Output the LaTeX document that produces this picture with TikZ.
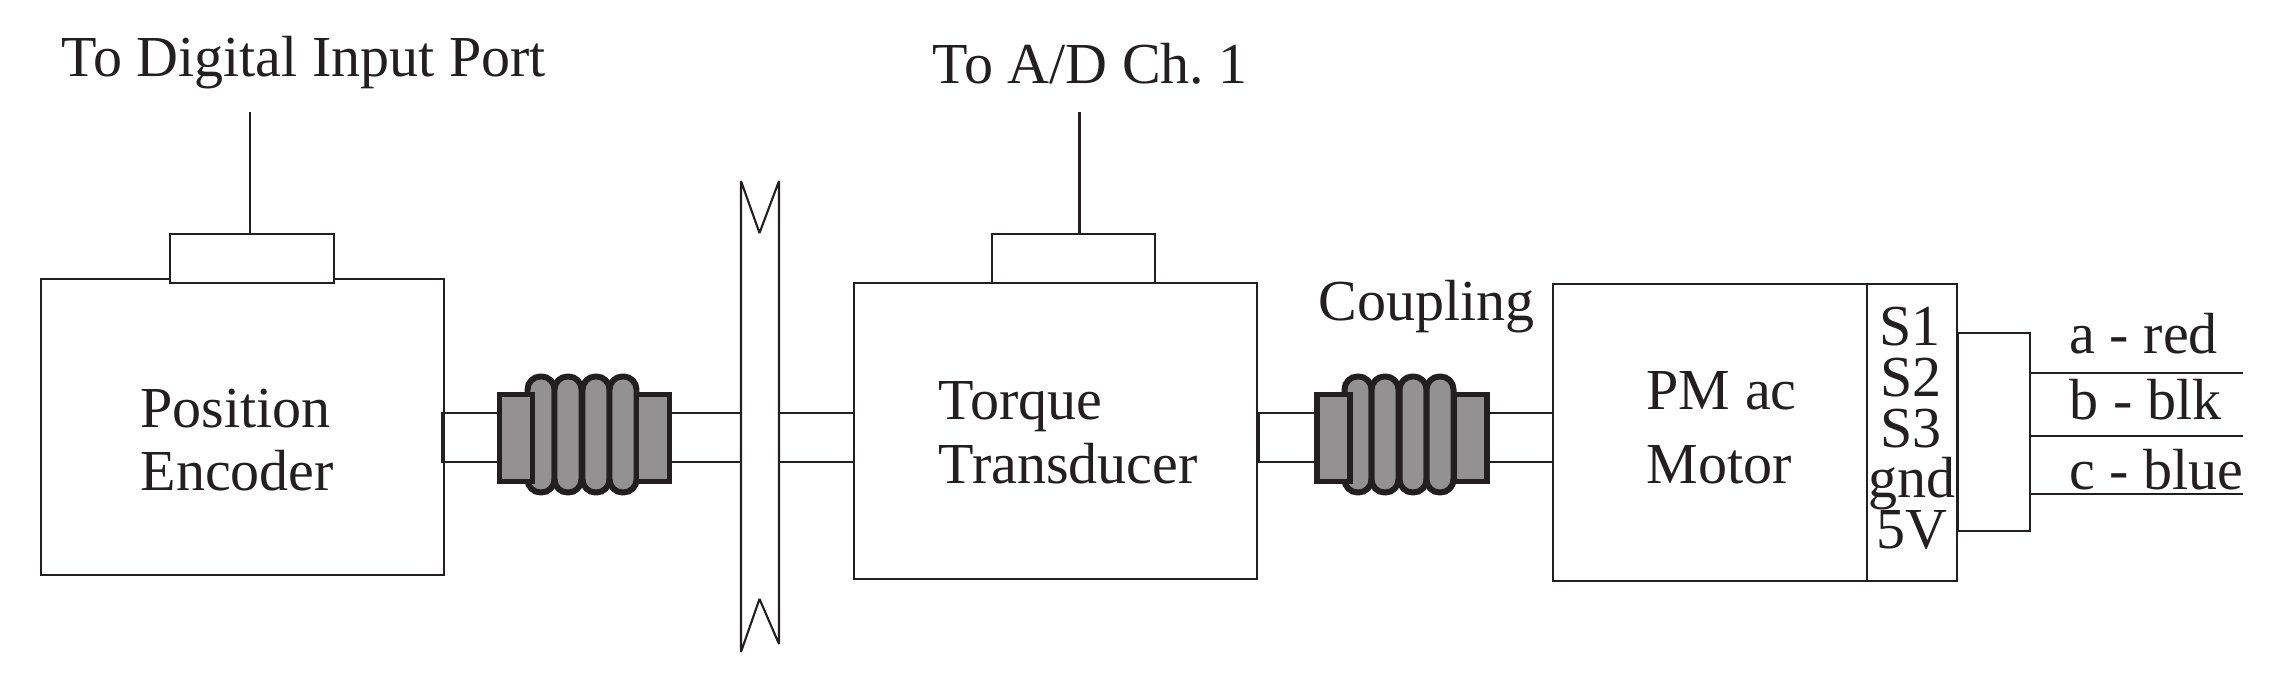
\documentclass[tikz,border=0pt]{standalone}
\usepackage{fontspec}
\setmainfont{Liberation Serif}
\frenchspacing
\usetikzlibrary{positioning}
\definecolor{ink}{HTML}{231F20}
\definecolor{bellow}{HTML}{939192}

\begin{document}
\begin{tikzpicture}[
  x=0.01cm, y=-0.01cm,
  wire/.style={draw=ink, line width=0.6pt},
  box/.style={draw=ink, line width=0.6pt, inner sep=0pt, outer sep=0pt},
  portbox/.style={box, fill=white, minimum height=0.49cm},
  label/.style={text=ink, anchor=base west, inner sep=0pt, font=\fontsize{16.5}{18}\selectfont},
  pin/.style={text=ink, anchor=base, inner sep=0pt, font=\fontsize{16.5}{18}\selectfont},
  hub/.style={draw=ink, fill=bellow, line width=1.7pt},
  coupling/.pic={
    \foreach \x in {541,568,596,623}
      \draw[hub, rounded corners=0.13cm] (\x-13.5,376.5) rectangle (\x+13.5,492.5);
    \draw[hub] (499.5,394.5) rectangle (532.5,481.5);
    \draw[hub] (636.5,394.5) rectangle (669.5,481.5);
  }
]
\useasboundingbox (0,0) rectangle (2284,689);

\node[box, minimum width=4.03cm, minimum height=2.96cm] (encoder) at (242.5,427) {};
\node[portbox, minimum width=1.64cm] (encoderport) at (252,258.5) {};
\node[box, minimum width=4.03cm, minimum height=2.96cm] (torque) at (1055.5,431) {};
\node[portbox, minimum width=1.63cm] (torqueport) at (1073.5,258.5) {};
\node[box, minimum width=3.14cm, minimum height=2.97cm] (motor) at (1710,432.5) {};
\node[box, minimum width=0.90cm, minimum height=2.97cm] (pins) at (1912,432.5) {};
\node[box, minimum width=0.72cm, minimum height=1.98cm] (plug) at (1994,432) {};

% shaft pieces
\node[box, minimum width=0.63cm, minimum height=0.49cm] (stuba) at (473.5,437.5) {};
\node[box, minimum width=0.71cm, minimum height=0.49cm] (stubb) at (705.5,437.5) {};
\node[box, minimum width=0.75cm, minimum height=0.49cm] (stubc) at (816.5,437.5) {};
\node[box, minimum width=0.63cm, minimum height=0.49cm] (stubd) at (1290.5,437.5) {};
\node[box, minimum width=0.66cm, minimum height=0.49cm] (stube) at (1520,437.5) {};

\pic at (0,0) {coupling};
\pic at (817,0) {coupling};

% pulley
\draw[wire, line join=bevel] (741,181) -- (759.5,233) -- (779,181) -- (779,644) -- (759.5,599) -- (741,652) -- cycle;

\coordinate (encoderlead) at (250,112);
\coordinate (torquelead) at (1079.5,112);
\coordinate (wirea) at (2243,373);
\coordinate (wireb) at (2243,436);
\coordinate (wirec) at (2243,494);

\draw[wire] (encoderlead) -- (encoderlead |- encoderport.north);
\draw[wire] (torquelead) -- (torquelead |- torqueport.north);
\draw[wire] (wirea -| plug.east) -- (wirea);
\draw[wire] (wireb -| plug.east) -- (wireb);
\draw[wire] (wirec -| plug.east) -- (wirec);

\node[label] (digital) at (61,77) {To Digital Input Port};
\node[label] (adc) at (932,84) {To A/D Ch. 1};
\node[label] (position) at (140,428) {Position};
\node[label] (encodertext) at (140,491) {Encoder};
\node[label] (torquetext) at (938,420) {Torque};
\node[label] (transducer) at (938,484) {Transducer};
\node[label] (couplingtext) at (1318,321) {Coupling};
\node[label] (pmac) at (1646,410) {PM ac};
\node[label] (motortext) at (1646,484) {Motor};
\node[pin] (sone) at (1910,346) {S1};
\node[pin] (stwo) at (1911,397) {S2};
\node[pin] (sthree) at (1911,448) {S3};
\node[pin] (gnd) at (1912,498) {gnd};
\node[pin] (five) at (1912,549) {5V};
\node[label] (red) at (2069,354) {a - red};
\node[label] (blk) at (2069,420) {b - blk};
\node[label] (blue) at (2069,490) {c - blue};
\end{tikzpicture}
\end{document}
